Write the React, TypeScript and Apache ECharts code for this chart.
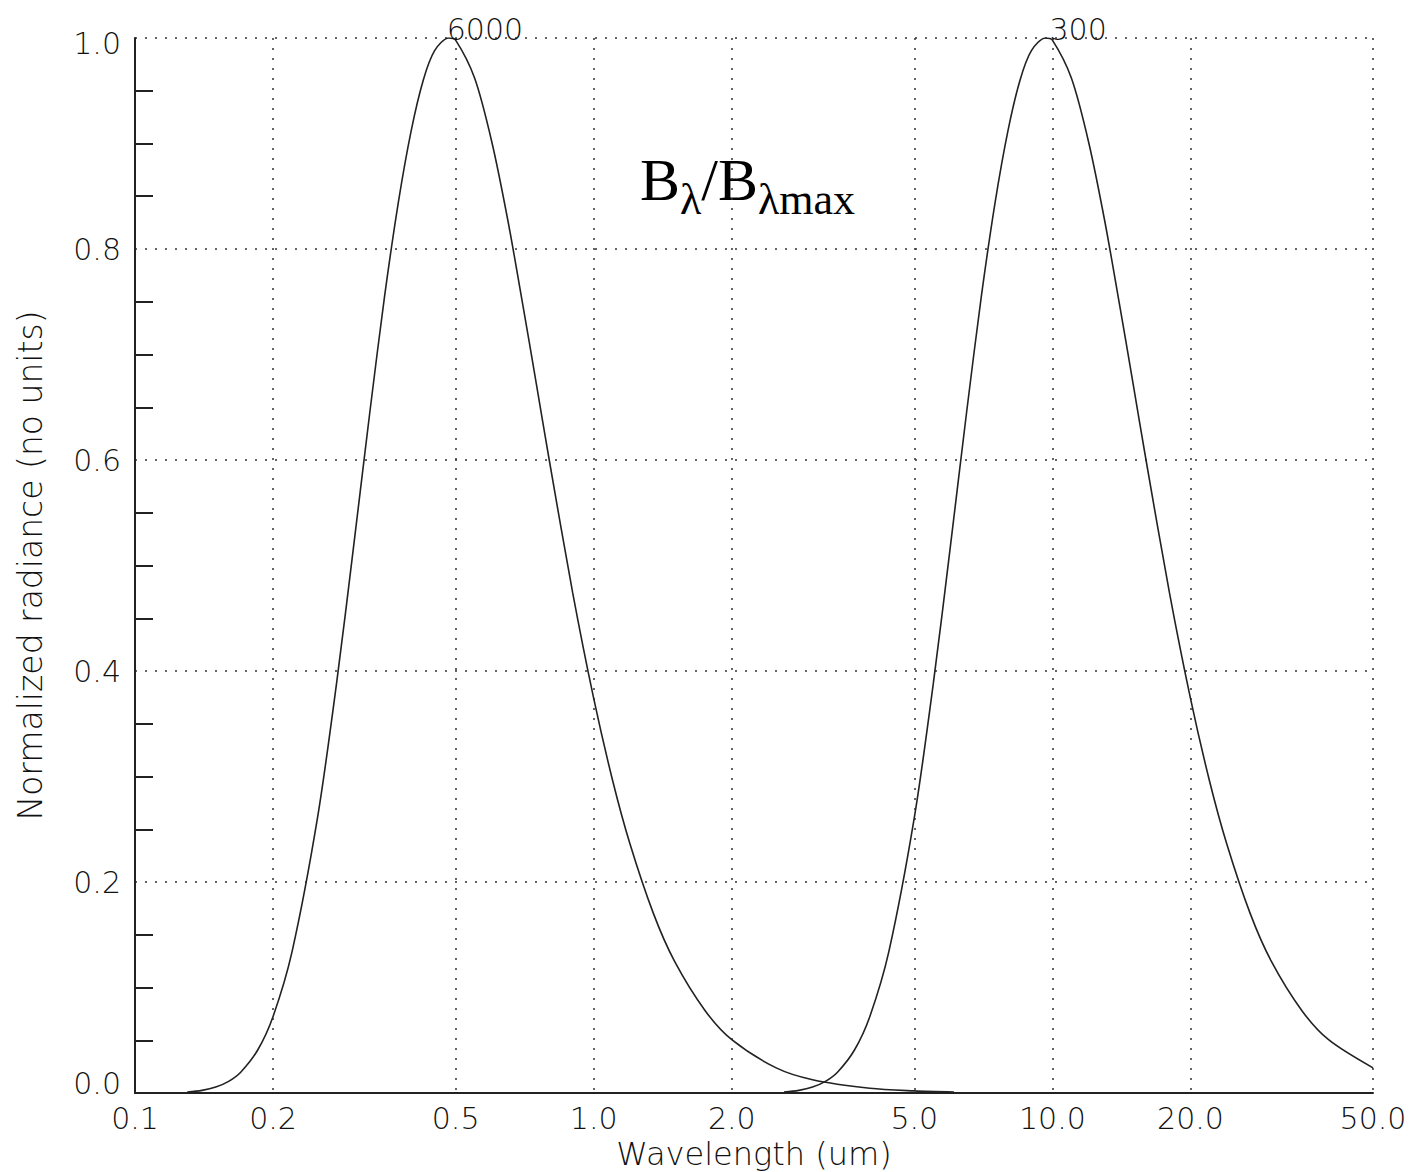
import React, { useEffect, useRef } from "react";
import * as echarts from "echarts";

// Wavelength (um) and normalized radiance
const wavelength6000 = [0.13, 0.14, 0.15, 0.16, 0.17, 0.185, 0.2, 0.22, 0.25, 0.275, 0.3, 0.325, 0.35, 0.375, 0.4, 0.425, 0.45, 0.483, 0.5, 0.55, 0.6, 0.65, 0.7, 0.75, 0.8, 0.9, 1.0, 1.1, 1.2, 1.35, 1.5, 1.75, 2.0, 2.5, 3.0, 4.0, 5.0, 6.1];
const radiance6000 = [0.001, 0.0025, 0.0056, 0.011, 0.0197, 0.0405, 0.0726, 0.134, 0.261, 0.388, 0.52, 0.645, 0.755, 0.844, 0.912, 0.96, 0.988, 1.0, 0.998, 0.962, 0.901, 0.827, 0.748, 0.672, 0.6, 0.474, 0.374, 0.296, 0.236, 0.17, 0.125, 0.078, 0.0505, 0.0238, 0.0126, 0.0045, 0.002, 0.0009];
const wavelength300 = [2.6, 2.8, 3.0, 3.2, 3.4, 3.7, 4.0, 4.4, 5.0, 5.5, 6.0, 6.5, 7.0, 7.5, 8.0, 8.5, 9.0, 9.66, 10, 11, 12, 13, 14, 15, 16, 18, 20, 22, 24, 27, 30, 35, 40, 50];
const radiance300 = [0.001, 0.0025, 0.0056, 0.011, 0.0197, 0.0405, 0.0726, 0.134, 0.261, 0.388, 0.52, 0.645, 0.755, 0.844, 0.912, 0.96, 0.988, 1.0, 0.998, 0.962, 0.901, 0.827, 0.748, 0.672, 0.6, 0.474, 0.374, 0.296, 0.236, 0.17, 0.125, 0.078, 0.0505, 0.0238];

const temperatureLabels = ["6000", "300"];
const peakWavelengths = [0.483, 9.66];

const xTickValues = [0.1, 0.2, 0.5, 1, 2, 5, 10, 20, 50];
const xTickLabels = ["0.1", "0.2", "0.5", "1.0", "2.0", "5.0", "10.0", "20.0", "50.0"];

const FONT = "'DejaVu Sans', sans-serif";
const TEXT_COLOR = "#111";

export default function App() {
  const ref = useRef<HTMLDivElement>(null);

  useEffect(() => {
    if (!ref.current) return;
    const chart = echarts.init(ref.current, null, { renderer: "svg" });
    const xLog = xTickValues.map((v) => Math.log10(v));
    const toPts = (w: number[], r: number[]) => w.map((x, i) => [Math.log10(x), r[i]]);
    const labelStyle = { fontFamily: FONT, fontSize: 30, fontWeight: 200 as any, color: TEXT_COLOR };
    const dotted = { type: [2, 8] as any, color: "#333", width: 1.5 };

    const makeSeries = (w: number[], r: number[], idx: number) => ({
      type: "line",
      data: toPts(w, r),
      showSymbol: false,
      symbol: "none",
      smooth: 0.3,
      lineStyle: { color: "#222", width: 1.6 },
      markPoint: {
        symbol: "circle",
        symbolSize: 1,
        itemStyle: { color: "rgba(0,0,0,0)" },
        data: [{ coord: [Math.log10(peakWavelengths[idx]), 1.0], value: temperatureLabels[idx] }],
        label: {
          show: true,
          formatter: temperatureLabels[idx],
          position: "inside",
          align: "left",
          verticalAlign: "bottom",
          offset: [idx === 0 ? -2 : 4, 6],
          ...labelStyle,
        },
      },
    });

    chart.setOption({
      animation: false,
      backgroundColor: "#fff",
      grid: { left: 135, right: 41, top: 38, bottom: 79, containLabel: false, outerBoundsMode: "none" },
      xAxis: {
        type: "value",
        min: -1,
        max: Math.log10(50),
        axisLine: { show: true, onZero: false, lineStyle: { color: "#222", width: 2 } },
        axisTick: { show: false, customValues: xLog },
        axisLabel: {
          customValues: xLog,
          formatter: (v: number) => {
            const i = xLog.findIndex((t) => Math.abs(t - v) < 1e-6);
            return i >= 0 ? xTickLabels[i] : "";
          },
          margin: 10,
          ...labelStyle,
        },
        splitLine: { show: true, lineStyle: dotted },
        name: "Wavelength (um)",
        nameLocation: "middle",
        nameGap: 45,
        nameTextStyle: { fontFamily: FONT, fontSize: 32, fontWeight: 200 as any, color: TEXT_COLOR },
      },
      yAxis: {
        type: "value",
        min: 0,
        max: 1,
        interval: 0.2,
        axisLine: { show: true, onZero: false, lineStyle: { color: "#222", width: 2 } },
        axisTick: { show: false, inside: true },
        minorTick: { show: true, splitNumber: 4, length: 18, lineStyle: { color: "#222", width: 2 } },
        minorSplitLine: { show: false },
        axisLabel: {
          margin: 14,
          formatter: (v: number) => {
            const s = v.toFixed(1);
            if (Math.abs(v) < 1e-9) return "{lo|" + s + "}";
            if (Math.abs(v - 1) < 1e-9) return "{hi|" + s + "}";
            return s;
          },
          ...labelStyle,
          rich: {
            lo: { ...labelStyle, padding: [0, 0, 20, 0] },
            hi: { ...labelStyle, padding: [10, 0, 0, 0] },
          },
        },
        splitLine: { show: true, lineStyle: dotted },
        name: "Normalized radiance (no units)",
        nameLocation: "middle",
        nameGap: 88,
        nameRotate: 90,
        nameTextStyle: { fontFamily: FONT, fontSize: 33, fontWeight: 200 as any, color: TEXT_COLOR },
      },
      series: [
        makeSeries(wavelength6000, radiance6000, 0),
        makeSeries(wavelength300, radiance300, 1),
      ],
      graphic: [
        {
          type: "text",
          left: 640,
          top: 150,
          style: {
            text: "{b|B}{s|λ}{b|/B}{s|λmax}",
            fill: "#000",
            rich: {
              b: { fontFamily: "'Liberation Serif', 'Times New Roman', serif", fontSize: 60, lineHeight: 60, padding: [0, 0, 11, 0], verticalAlign: "bottom", fill: "#000" },
              s: { fontFamily: "'Liberation Serif', 'Times New Roman', serif", fontSize: 44, lineHeight: 44, verticalAlign: "bottom", fill: "#000" },
            },
          },
        },
      ],
    });

    return () => chart.dispose();
  }, []);

  return (
    <div
      ref={ref}
      style={{ position: "absolute", left: 0, top: 0, width: 1414, height: 1172, background: "#fff" }}
    />
  );
}
